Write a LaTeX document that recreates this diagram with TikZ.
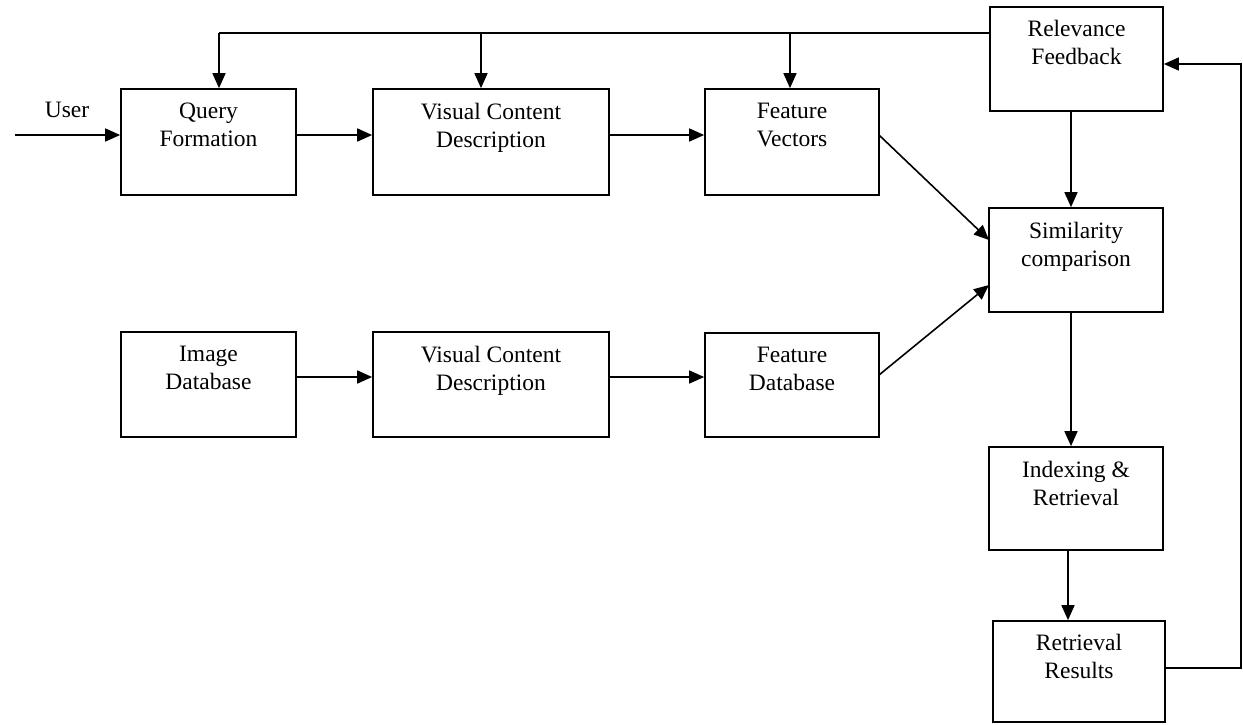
\documentclass[tikz,border=0pt]{standalone}
\usepackage{fontspec}
\setmainfont{Liberation Serif}
\usetikzlibrary{arrows.meta,calc}
\begin{document}
\begin{tikzpicture}[x=1pt,y=-1pt,
  box/.style={draw=black,line width=1.7pt,minimum height=106pt,inner sep=0pt},
  lbl/.style={inner sep=0pt,anchor=north,align=center,font=\fontsize{23.5}{27.5}\selectfont},
  arr/.style={draw=black,line width=1.6pt,-{Triangle[length=15pt,width=13pt]}},
  ln/.style={draw=black,line width=1.6pt}]
\useasboundingbox (0,0) rectangle (1243,724);
% boxes
\node[box,minimum width=175pt] (qf) at (208.5,142) {};
\node[box,minimum width=236pt] (vcda) at (491,142) {};
\node[box,minimum width=174pt] (fv) at (792,142) {};
\node[box,minimum width=173pt,minimum height=104pt] (rf) at (1076.5,59) {};
\node[box,minimum width=174pt,minimum height=104pt] (sim) at (1076,260) {};
\node[box,minimum width=175pt,minimum height=105pt] (idb) at (208.5,384.5) {};
\node[box,minimum width=236pt,minimum height=105pt] (vcdb) at (491,384.5) {};
\node[box,minimum width=174pt,minimum height=104pt] (fdb) at (792,385) {};
\node[box,minimum width=174pt,minimum height=103pt] (idx) at (1076,498.5) {};
\node[box,minimum width=172pt,minimum height=101pt] (rr) at (1079,671.5) {};
% labels
\node[lbl] (qft) at ($(qf.north)+(0,15)$) {Query\\Formation};
\node[lbl] (vcdat) at ($(vcda.north)+(0,15)$) {Visual Content\\Description};
\node[lbl] (fvt) at ($(fv.north)+(0,15)$) {Feature\\Vectors};
\node[lbl] (rft) at ($(rf.north)+(0,14)$) {Relevance\\Feedback};
\node[lbl] (simt) at ($(sim.north)+(0,15)$) {Similarity\\comparison};
\node[lbl] (idbt) at ($(idb.north)+(0,15)$) {Image\\Database};
\node[lbl] (vcdbt) at ($(vcdb.north)+(0,15)$) {Visual Content\\Description};
\node[lbl] (fdbt) at ($(fdb.north)+(0,15)$) {Feature\\Database};
\node[lbl] (idxt) at ($(idx.north)+(0,15)$) {Indexing \&\\Retrieval};
\node[lbl] (rrt) at ($(rr.north)+(0,14)$) {Retrieval\\Results};
\node[inner sep=0pt,anchor=base,font=\fontsize{23.5}{27.5}\selectfont] (user) at (67,117) {User};
% coordinates
\coordinate (u) at (15,135);
\coordinate (rowa) at (0,135);
\coordinate (rowb) at (0,377);
\coordinate (fbtop) at (0,33);
\coordinate (cqf) at (219,0);
\coordinate (cvc) at (481,0);
\coordinate (cfv) at (790,0);
\coordinate (sima) at (989,240);
\coordinate (simb) at (989,285);
\coordinate (fvo) at (879,135);
\coordinate (fdbo) at (879,375);
\coordinate (ca) at (1071,0);
\coordinate (cb) at (1068,0);
\coordinate (rry) at (0,668);
\coordinate (rfy) at (0,64);
\coordinate (rx) at (1241,0);
% connectors
\draw[arr] (u) -- (u -| qf.west);
\draw[arr] (qf.east |- rowa) -- (vcda.west |- rowa);
\draw[arr] (vcda.east |- rowa) -- (fv.west |- rowa);
\draw[arr] (idb.east |- rowb) -- (vcdb.west |- rowb);
\draw[arr] (vcdb.east |- rowb) -- (fdb.west |- rowb);
\draw[arr] (fvo) -- (sima);
\draw[arr] (fdbo) -- (simb);
\draw[ln] (rf.west |- fbtop) -- (cqf |- fbtop);
\draw[arr] (cqf |- fbtop) -- (cqf |- qf.north);
\draw[arr] (cvc |- fbtop) -- (cvc |- vcda.north);
\draw[arr] (cfv |- fbtop) -- (cfv |- fv.north);
\draw[arr] (ca |- rf.south) -- (ca |- sim.north);
\draw[arr] (ca |- sim.south) -- (ca |- idx.north);
\draw[arr] (cb |- idx.south) -- (cb |- rr.north);
\draw[arr] (rr.east |- rry) -- (rx |- rry) -- (rx |- rfy) -- (rf.east |- rfy);
\end{tikzpicture}
\end{document}
